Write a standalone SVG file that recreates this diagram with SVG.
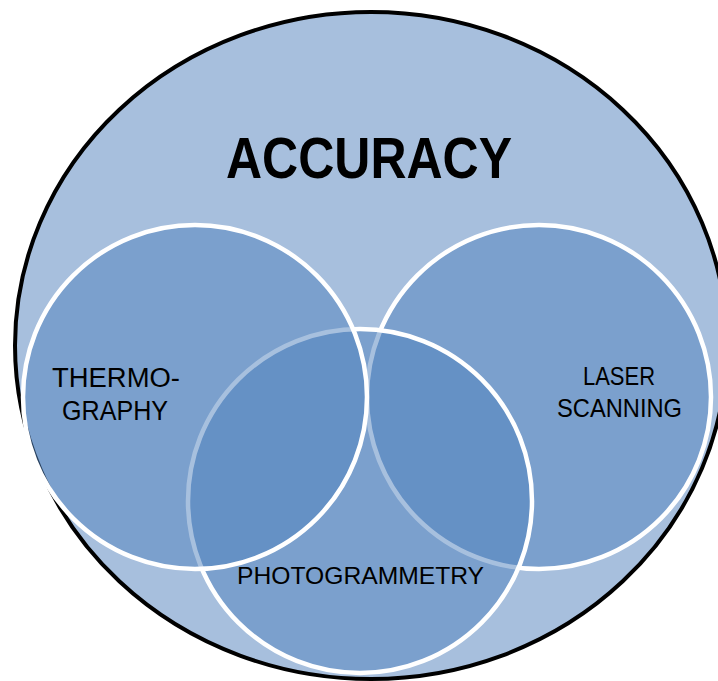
<svg xmlns="http://www.w3.org/2000/svg" width="718" height="681" viewBox="0 0 718 681">
  <style>
    .outer { fill: #A7BFDD; stroke: #000; stroke-width: 4; }
    .set { fill: #4F81BD; fill-opacity: 0.5; stroke: #fff; stroke-width: 4.5; }
    .lbl { font-family: "Liberation Sans", Arial, sans-serif; fill: #000; text-anchor: middle; }
    .title { font-family: "Liberation Sans", Arial, sans-serif; font-weight: bold; fill: #000; text-anchor: middle; }
  </style>

  <!-- enclosing set -->
  <g id="accuracy">
    <ellipse class="outer" cx="371" cy="345.5" rx="356" ry="333.5"/>
    <text class="title" x="369" y="178" font-size="58" textLength="286" lengthAdjust="spacingAndGlyphs">ACCURACY</text>
  </g>

  <!-- overlapping sets, back to front -->
  <g id="laser-scanning">
    <circle class="set" cx="539" cy="397" r="172"/>
  </g>
  <g id="photogrammetry">
    <circle class="set" cx="360" cy="501" r="172"/>
  </g>
  <g id="thermography">
    <circle class="set" cx="195" cy="397" r="172"/>
  </g>

  <!-- set labels -->
  <g id="labels">
    <text class="lbl" x="116" y="387" font-size="27" textLength="128" lengthAdjust="spacingAndGlyphs">THERMO-</text>
    <text class="lbl" x="115" y="420" font-size="27" textLength="106" lengthAdjust="spacingAndGlyphs">GRAPHY</text>
    <text class="lbl" x="619" y="385" font-size="25" textLength="72" lengthAdjust="spacingAndGlyphs">LASER</text>
    <text class="lbl" x="619.5" y="417" font-size="25" textLength="125" lengthAdjust="spacingAndGlyphs">SCANNING</text>
    <text class="lbl" x="360.5" y="584" font-size="24" textLength="247" lengthAdjust="spacingAndGlyphs">PHOTOGRAMMETRY</text>
  </g>
</svg>
